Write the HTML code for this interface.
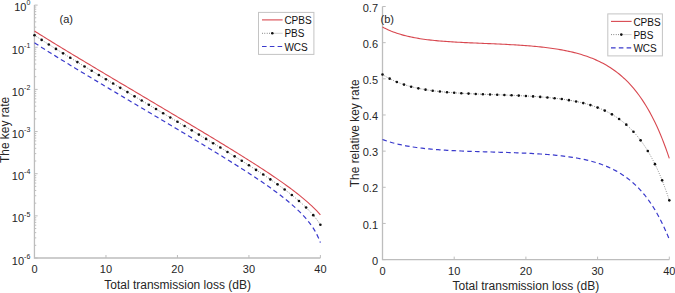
<!DOCTYPE html>
<html><head><meta charset="utf-8"><style>
html,body{margin:0;padding:0;background:#fff;}
svg{display:block;font-family:"Liberation Sans",sans-serif;}
</style></head><body>
<svg width="675" height="293" viewBox="0 0 675 293">
<rect width="675" height="293" fill="#fff"/>
<path d="M34.45,5.1 V258.0 H320.4" fill="none" stroke="#bdbdbd" stroke-width="1.3"/>
<path d="M105.97,258.0 v-3" stroke="#bdbdbd" stroke-width="1"/>
<path d="M177.45,258.0 v-3" stroke="#bdbdbd" stroke-width="1"/>
<path d="M248.93,258.0 v-3" stroke="#bdbdbd" stroke-width="1"/>
<path d="M320.40,258.0 v-3" stroke="#bdbdbd" stroke-width="1"/>
<path d="M34.45,5.10 h3.2" stroke="#bdbdbd" stroke-width="1"/>
<path d="M34.45,34.56 h1.8" stroke="#bdbdbd" stroke-width="1"/>
<path d="M34.45,27.14 h1.8" stroke="#bdbdbd" stroke-width="1"/>
<path d="M34.45,21.87 h1.8" stroke="#bdbdbd" stroke-width="1"/>
<path d="M34.45,17.79 h1.8" stroke="#bdbdbd" stroke-width="1"/>
<path d="M34.45,14.45 h1.8" stroke="#bdbdbd" stroke-width="1"/>
<path d="M34.45,11.63 h1.8" stroke="#bdbdbd" stroke-width="1"/>
<path d="M34.45,9.18 h1.8" stroke="#bdbdbd" stroke-width="1"/>
<path d="M34.45,7.03 h1.8" stroke="#bdbdbd" stroke-width="1"/>
<path d="M34.45,47.25 h3.2" stroke="#bdbdbd" stroke-width="1"/>
<path d="M34.45,76.71 h1.8" stroke="#bdbdbd" stroke-width="1"/>
<path d="M34.45,69.29 h1.8" stroke="#bdbdbd" stroke-width="1"/>
<path d="M34.45,64.02 h1.8" stroke="#bdbdbd" stroke-width="1"/>
<path d="M34.45,59.94 h1.8" stroke="#bdbdbd" stroke-width="1"/>
<path d="M34.45,56.60 h1.8" stroke="#bdbdbd" stroke-width="1"/>
<path d="M34.45,53.78 h1.8" stroke="#bdbdbd" stroke-width="1"/>
<path d="M34.45,51.33 h1.8" stroke="#bdbdbd" stroke-width="1"/>
<path d="M34.45,49.18 h1.8" stroke="#bdbdbd" stroke-width="1"/>
<path d="M34.45,89.40 h3.2" stroke="#bdbdbd" stroke-width="1"/>
<path d="M34.45,118.86 h1.8" stroke="#bdbdbd" stroke-width="1"/>
<path d="M34.45,111.44 h1.8" stroke="#bdbdbd" stroke-width="1"/>
<path d="M34.45,106.17 h1.8" stroke="#bdbdbd" stroke-width="1"/>
<path d="M34.45,102.09 h1.8" stroke="#bdbdbd" stroke-width="1"/>
<path d="M34.45,98.75 h1.8" stroke="#bdbdbd" stroke-width="1"/>
<path d="M34.45,95.93 h1.8" stroke="#bdbdbd" stroke-width="1"/>
<path d="M34.45,93.48 h1.8" stroke="#bdbdbd" stroke-width="1"/>
<path d="M34.45,91.33 h1.8" stroke="#bdbdbd" stroke-width="1"/>
<path d="M34.45,131.55 h3.2" stroke="#bdbdbd" stroke-width="1"/>
<path d="M34.45,161.01 h1.8" stroke="#bdbdbd" stroke-width="1"/>
<path d="M34.45,153.59 h1.8" stroke="#bdbdbd" stroke-width="1"/>
<path d="M34.45,148.32 h1.8" stroke="#bdbdbd" stroke-width="1"/>
<path d="M34.45,144.24 h1.8" stroke="#bdbdbd" stroke-width="1"/>
<path d="M34.45,140.90 h1.8" stroke="#bdbdbd" stroke-width="1"/>
<path d="M34.45,138.08 h1.8" stroke="#bdbdbd" stroke-width="1"/>
<path d="M34.45,135.63 h1.8" stroke="#bdbdbd" stroke-width="1"/>
<path d="M34.45,133.48 h1.8" stroke="#bdbdbd" stroke-width="1"/>
<path d="M34.45,173.70 h3.2" stroke="#bdbdbd" stroke-width="1"/>
<path d="M34.45,203.16 h1.8" stroke="#bdbdbd" stroke-width="1"/>
<path d="M34.45,195.74 h1.8" stroke="#bdbdbd" stroke-width="1"/>
<path d="M34.45,190.47 h1.8" stroke="#bdbdbd" stroke-width="1"/>
<path d="M34.45,186.39 h1.8" stroke="#bdbdbd" stroke-width="1"/>
<path d="M34.45,183.05 h1.8" stroke="#bdbdbd" stroke-width="1"/>
<path d="M34.45,180.23 h1.8" stroke="#bdbdbd" stroke-width="1"/>
<path d="M34.45,177.78 h1.8" stroke="#bdbdbd" stroke-width="1"/>
<path d="M34.45,175.63 h1.8" stroke="#bdbdbd" stroke-width="1"/>
<path d="M34.45,215.85 h3.2" stroke="#bdbdbd" stroke-width="1"/>
<path d="M34.45,245.31 h1.8" stroke="#bdbdbd" stroke-width="1"/>
<path d="M34.45,237.89 h1.8" stroke="#bdbdbd" stroke-width="1"/>
<path d="M34.45,232.62 h1.8" stroke="#bdbdbd" stroke-width="1"/>
<path d="M34.45,228.54 h1.8" stroke="#bdbdbd" stroke-width="1"/>
<path d="M34.45,225.20 h1.8" stroke="#bdbdbd" stroke-width="1"/>
<path d="M34.45,222.38 h1.8" stroke="#bdbdbd" stroke-width="1"/>
<path d="M34.45,219.93 h1.8" stroke="#bdbdbd" stroke-width="1"/>
<path d="M34.45,217.78 h1.8" stroke="#bdbdbd" stroke-width="1"/>
<path d="M34.45,258.00 h3.2" stroke="#bdbdbd" stroke-width="1"/>
<path d="M382.5,6.5 V259.6 H669.3" fill="none" stroke="#bdbdbd" stroke-width="1.3"/>
<path d="M454.20,259.6 v-3" stroke="#bdbdbd" stroke-width="1"/>
<path d="M525.90,259.6 v-3" stroke="#bdbdbd" stroke-width="1"/>
<path d="M597.60,259.6 v-3" stroke="#bdbdbd" stroke-width="1"/>
<path d="M669.30,259.6 v-3" stroke="#bdbdbd" stroke-width="1"/>
<path d="M382.5,259.60 h3.2" stroke="#bdbdbd" stroke-width="1"/>
<path d="M382.5,223.44 h3.2" stroke="#bdbdbd" stroke-width="1"/>
<path d="M382.5,187.29 h3.2" stroke="#bdbdbd" stroke-width="1"/>
<path d="M382.5,151.13 h3.2" stroke="#bdbdbd" stroke-width="1"/>
<path d="M382.5,114.97 h3.2" stroke="#bdbdbd" stroke-width="1"/>
<path d="M382.5,78.81 h3.2" stroke="#bdbdbd" stroke-width="1"/>
<path d="M382.5,42.66 h3.2" stroke="#bdbdbd" stroke-width="1"/>
<path d="M382.5,6.50 h3.2" stroke="#bdbdbd" stroke-width="1"/>
<path d="M34.50,31.04 L36.29,32.17 L38.07,33.30 L39.86,34.42 L41.65,35.53 L43.43,36.65 L45.22,37.76 L47.01,38.86 L48.80,39.97 L50.58,41.07 L52.37,42.17 L54.16,43.26 L55.94,44.36 L57.73,45.45 L59.52,46.54 L61.30,47.62 L63.09,48.71 L64.88,49.79 L66.66,50.88 L68.45,51.96 L70.24,53.04 L72.02,54.11 L73.81,55.19 L75.60,56.27 L77.38,57.34 L79.17,58.41 L80.96,59.48 L82.75,60.56 L84.53,61.63 L86.32,62.69 L88.11,63.76 L89.89,64.83 L91.68,65.90 L93.47,66.96 L95.25,68.03 L97.04,69.10 L98.83,70.16 L100.61,71.22 L102.40,72.29 L104.19,73.35 L105.97,74.41 L107.76,75.48 L109.55,76.54 L111.34,77.60 L113.12,78.66 L114.91,79.72 L116.70,80.78 L118.48,81.85 L120.27,82.91 L122.06,83.97 L123.84,85.03 L125.63,86.09 L127.42,87.15 L129.20,88.21 L130.99,89.27 L132.78,90.33 L134.56,91.39 L136.35,92.45 L138.14,93.51 L139.93,94.57 L141.71,95.63 L143.50,96.69 L145.29,97.75 L147.07,98.81 L148.86,99.87 L150.65,100.93 L152.43,101.99 L154.22,103.05 L156.01,104.11 L157.79,105.17 L159.58,106.24 L161.37,107.30 L163.16,108.36 L164.94,109.42 L166.73,110.49 L168.52,111.55 L170.30,112.61 L172.09,113.68 L173.88,114.74 L175.66,115.80 L177.45,116.87 L179.24,117.93 L181.02,119.00 L182.81,120.07 L184.60,121.13 L186.38,122.20 L188.17,123.27 L189.96,124.34 L191.74,125.41 L193.53,126.48 L195.32,127.55 L197.11,128.62 L198.89,129.70 L200.68,130.77 L202.47,131.84 L204.25,132.92 L206.04,134.00 L207.83,135.07 L209.61,136.15 L211.40,137.23 L213.19,138.31 L214.97,139.40 L216.76,140.48 L218.55,141.57 L220.33,142.66 L222.12,143.74 L223.91,144.84 L225.70,145.93 L227.48,147.02 L229.27,148.12 L231.06,149.22 L232.84,150.32 L234.63,151.42 L236.42,152.53 L238.20,153.64 L239.99,154.75 L241.78,155.86 L243.56,156.98 L245.35,158.10 L247.14,159.23 L248.93,160.36 L250.71,161.49 L252.50,162.62 L254.29,163.76 L256.07,164.91 L257.86,166.06 L259.65,167.21 L261.43,168.37 L263.22,169.54 L265.01,170.71 L266.79,171.89 L268.58,173.08 L270.37,174.27 L272.15,175.47 L273.94,176.68 L275.73,177.90 L277.51,179.13 L279.30,180.37 L281.09,181.62 L282.88,182.88 L284.66,184.15 L286.45,185.44 L288.24,186.74 L290.02,188.06 L291.81,189.39 L293.60,190.74 L295.38,192.11 L297.17,193.50 L298.96,194.92 L300.74,196.36 L302.53,197.83 L304.32,199.33 L306.10,200.86 L307.89,202.43 L309.68,204.04 L311.47,205.69 L313.25,207.40 L315.04,209.16 L316.83,210.99 L318.61,212.89 L320.40,214.87" fill="none" stroke="#d84850" stroke-width="1.1"/>
<path d="M34.50,35.25 L36.29,36.42 L38.07,37.58 L39.86,38.73 L41.65,39.88 L43.43,41.03 L45.22,42.17 L47.01,43.31 L48.80,44.44 L50.58,45.56 L52.37,46.69 L54.16,47.81 L55.94,48.92 L57.73,50.04 L59.52,51.15 L61.30,52.26 L63.09,53.36 L64.88,54.46 L66.66,55.56 L68.45,56.66 L70.24,57.75 L72.02,58.84 L73.81,59.93 L75.60,61.02 L77.38,62.11 L79.17,63.19 L80.96,64.27 L82.75,65.36 L84.53,66.44 L86.32,67.51 L88.11,68.59 L89.89,69.67 L91.68,70.74 L93.47,71.82 L95.25,72.89 L97.04,73.96 L98.83,75.03 L100.61,76.10 L102.40,77.17 L104.19,78.24 L105.97,79.31 L107.76,80.37 L109.55,81.44 L111.34,82.51 L113.12,83.57 L114.91,84.64 L116.70,85.70 L118.48,86.77 L120.27,87.83 L122.06,88.89 L123.84,89.95 L125.63,91.02 L127.42,92.08 L129.20,93.14 L130.99,94.20 L132.78,95.27 L134.56,96.33 L136.35,97.39 L138.14,98.45 L139.93,99.51 L141.71,100.57 L143.50,101.63 L145.29,102.69 L147.07,103.75 L148.86,104.82 L150.65,105.88 L152.43,106.94 L154.22,108.00 L156.01,109.06 L157.79,110.12 L159.58,111.18 L161.37,112.24 L163.16,113.31 L164.94,114.37 L166.73,115.43 L168.52,116.49 L170.30,117.56 L172.09,118.62 L173.88,119.68 L175.66,120.75 L177.45,121.81 L179.24,122.87 L181.02,123.94 L182.81,125.00 L184.60,126.07 L186.38,127.14 L188.17,128.20 L189.96,129.27 L191.74,130.34 L193.53,131.41 L195.32,132.48 L197.11,133.55 L198.89,134.62 L200.68,135.70 L202.47,136.77 L204.25,137.84 L206.04,138.92 L207.83,140.00 L209.61,141.07 L211.40,142.15 L213.19,143.24 L214.97,144.32 L216.76,145.40 L218.55,146.49 L220.33,147.57 L222.12,148.66 L223.91,149.75 L225.70,150.85 L227.48,151.94 L229.27,153.04 L231.06,154.14 L232.84,155.24 L234.63,156.35 L236.42,157.45 L238.20,158.56 L239.99,159.68 L241.78,160.80 L243.56,161.92 L245.35,163.04 L247.14,164.17 L248.93,165.31 L250.71,166.44 L252.50,167.59 L254.29,168.74 L256.07,169.89 L257.86,171.05 L259.65,172.22 L261.43,173.39 L263.22,174.57 L265.01,175.76 L266.79,176.96 L268.58,178.16 L270.37,179.38 L272.15,180.60 L273.94,181.84 L275.73,183.09 L277.51,184.35 L279.30,185.63 L281.09,186.91 L282.88,188.22 L284.66,189.54 L286.45,190.88 L288.24,192.25 L290.02,193.63 L291.81,195.04 L293.60,196.48 L295.38,197.94 L297.17,199.44 L298.96,200.97 L300.74,202.54 L302.53,204.16 L304.32,205.83 L306.10,207.55 L307.89,209.33 L309.68,211.19 L311.47,213.13 L313.25,215.17 L315.04,217.32 L316.83,219.61 L318.61,222.06 L320.40,224.70" fill="none" stroke="#555" stroke-width="0.8" stroke-dasharray="0.8 1.6"/>
<path d="M34.50,42.80 L36.29,43.95 L38.07,45.10 L39.86,46.25 L41.65,47.39 L43.43,48.52 L45.22,49.65 L47.01,50.78 L48.80,51.91 L50.58,53.03 L52.37,54.14 L54.16,55.26 L55.94,56.37 L57.73,57.48 L59.52,58.59 L61.30,59.69 L63.09,60.79 L64.88,61.89 L66.66,62.99 L68.45,64.08 L70.24,65.17 L72.02,66.26 L73.81,67.35 L75.60,68.44 L77.38,69.53 L79.17,70.61 L80.96,71.69 L82.75,72.77 L84.53,73.85 L86.32,74.93 L88.11,76.01 L89.89,77.09 L91.68,78.16 L93.47,79.24 L95.25,80.31 L97.04,81.38 L98.83,82.45 L100.61,83.52 L102.40,84.60 L104.19,85.66 L105.97,86.73 L107.76,87.80 L109.55,88.87 L111.34,89.94 L113.12,91.00 L114.91,92.07 L116.70,93.13 L118.48,94.20 L120.27,95.26 L122.06,96.33 L123.84,97.39 L125.63,98.46 L127.42,99.52 L129.20,100.58 L130.99,101.65 L132.78,102.71 L134.56,103.77 L136.35,104.84 L138.14,105.90 L139.93,106.96 L141.71,108.03 L143.50,109.09 L145.29,110.15 L147.07,111.21 L148.86,112.28 L150.65,113.34 L152.43,114.40 L154.22,115.47 L156.01,116.53 L157.79,117.59 L159.58,118.66 L161.37,119.72 L163.16,120.79 L164.94,121.85 L166.73,122.91 L168.52,123.98 L170.30,125.05 L172.09,126.11 L173.88,127.18 L175.66,128.25 L177.45,129.31 L179.24,130.38 L181.02,131.45 L182.81,132.52 L184.60,133.59 L186.38,134.66 L188.17,135.73 L189.96,136.81 L191.74,137.88 L193.53,138.95 L195.32,140.03 L197.11,141.11 L198.89,142.18 L200.68,143.26 L202.47,144.34 L204.25,145.42 L206.04,146.51 L207.83,147.59 L209.61,148.68 L211.40,149.77 L213.19,150.85 L214.97,151.95 L216.76,153.04 L218.55,154.14 L220.33,155.23 L222.12,156.33 L223.91,157.44 L225.70,158.54 L227.48,159.65 L229.27,160.76 L231.06,161.88 L232.84,162.99 L234.63,164.12 L236.42,165.24 L238.20,166.37 L239.99,167.50 L241.78,168.64 L243.56,169.79 L245.35,170.94 L247.14,172.09 L248.93,173.25 L250.71,174.42 L252.50,175.59 L254.29,176.77 L256.07,177.96 L257.86,179.15 L259.65,180.36 L261.43,181.57 L263.22,182.79 L265.01,184.03 L266.79,185.27 L268.58,186.53 L270.37,187.80 L272.15,189.09 L273.94,190.39 L275.73,191.71 L277.51,193.04 L279.30,194.40 L281.09,195.77 L282.88,197.17 L284.66,198.59 L286.45,200.04 L288.24,201.51 L290.02,203.02 L291.81,204.56 L293.60,206.13 L295.38,207.75 L297.17,209.41 L298.96,211.13 L300.74,212.90 L302.53,214.74 L304.32,216.67 L306.10,218.69 L307.89,220.82 L309.68,223.09 L311.47,225.53 L313.25,228.18 L315.04,231.10 L316.83,234.38 L318.61,238.16 L320.40,242.65" fill="none" stroke="#3a3acc" stroke-width="1.2" stroke-dasharray="4.6 3.2"/>
<circle cx="34.50" cy="35.25" r="1.3" fill="#111"/>
<circle cx="41.65" cy="39.88" r="1.3" fill="#111"/>
<circle cx="48.80" cy="44.44" r="1.3" fill="#111"/>
<circle cx="55.94" cy="48.92" r="1.3" fill="#111"/>
<circle cx="63.09" cy="53.36" r="1.3" fill="#111"/>
<circle cx="70.24" cy="57.75" r="1.3" fill="#111"/>
<circle cx="77.38" cy="62.11" r="1.3" fill="#111"/>
<circle cx="84.53" cy="66.44" r="1.3" fill="#111"/>
<circle cx="91.68" cy="70.74" r="1.3" fill="#111"/>
<circle cx="98.83" cy="75.03" r="1.3" fill="#111"/>
<circle cx="105.97" cy="79.31" r="1.3" fill="#111"/>
<circle cx="113.12" cy="83.57" r="1.3" fill="#111"/>
<circle cx="120.27" cy="87.83" r="1.3" fill="#111"/>
<circle cx="127.42" cy="92.08" r="1.3" fill="#111"/>
<circle cx="134.56" cy="96.33" r="1.3" fill="#111"/>
<circle cx="141.71" cy="100.57" r="1.3" fill="#111"/>
<circle cx="148.86" cy="104.82" r="1.3" fill="#111"/>
<circle cx="156.01" cy="109.06" r="1.3" fill="#111"/>
<circle cx="163.16" cy="113.31" r="1.3" fill="#111"/>
<circle cx="170.30" cy="117.56" r="1.3" fill="#111"/>
<circle cx="177.45" cy="121.81" r="1.3" fill="#111"/>
<circle cx="184.60" cy="126.07" r="1.3" fill="#111"/>
<circle cx="191.74" cy="130.34" r="1.3" fill="#111"/>
<circle cx="198.89" cy="134.62" r="1.3" fill="#111"/>
<circle cx="206.04" cy="138.92" r="1.3" fill="#111"/>
<circle cx="213.19" cy="143.24" r="1.3" fill="#111"/>
<circle cx="220.33" cy="147.57" r="1.3" fill="#111"/>
<circle cx="227.48" cy="151.94" r="1.3" fill="#111"/>
<circle cx="234.63" cy="156.35" r="1.3" fill="#111"/>
<circle cx="241.78" cy="160.80" r="1.3" fill="#111"/>
<circle cx="248.93" cy="165.31" r="1.3" fill="#111"/>
<circle cx="256.07" cy="169.89" r="1.3" fill="#111"/>
<circle cx="263.22" cy="174.57" r="1.3" fill="#111"/>
<circle cx="270.37" cy="179.38" r="1.3" fill="#111"/>
<circle cx="277.51" cy="184.35" r="1.3" fill="#111"/>
<circle cx="284.66" cy="189.54" r="1.3" fill="#111"/>
<circle cx="291.81" cy="195.04" r="1.3" fill="#111"/>
<circle cx="298.96" cy="200.97" r="1.3" fill="#111"/>
<circle cx="306.10" cy="207.55" r="1.3" fill="#111"/>
<circle cx="313.25" cy="215.17" r="1.3" fill="#111"/>
<circle cx="320.40" cy="224.70" r="1.3" fill="#111"/>
<path d="M382.50,27.01 L384.29,27.96 L386.08,28.85 L387.88,29.68 L389.67,30.47 L391.46,31.22 L393.25,31.92 L395.05,32.58 L396.84,33.20 L398.63,33.79 L400.43,34.34 L402.22,34.86 L404.01,35.35 L405.80,35.81 L407.59,36.25 L409.39,36.66 L411.18,37.05 L412.97,37.41 L414.76,37.76 L416.56,38.08 L418.35,38.39 L420.14,38.68 L421.94,38.95 L423.73,39.21 L425.52,39.45 L427.31,39.68 L429.11,39.90 L430.90,40.11 L432.69,40.31 L434.48,40.49 L436.27,40.67 L438.07,40.83 L439.86,40.99 L441.65,41.14 L443.44,41.28 L445.24,41.42 L447.03,41.55 L448.82,41.67 L450.62,41.79 L452.41,41.91 L454.20,42.01 L455.99,42.12 L457.78,42.22 L459.58,42.32 L461.37,42.41 L463.16,42.50 L464.95,42.59 L466.75,42.67 L468.54,42.75 L470.33,42.83 L472.12,42.91 L473.92,42.99 L475.71,43.07 L477.50,43.14 L479.29,43.22 L481.09,43.29 L482.88,43.37 L484.67,43.44 L486.46,43.52 L488.26,43.59 L490.05,43.67 L491.84,43.74 L493.63,43.82 L495.43,43.90 L497.22,43.98 L499.01,44.06 L500.80,44.14 L502.60,44.23 L504.39,44.31 L506.18,44.40 L507.97,44.49 L509.77,44.59 L511.56,44.69 L513.35,44.79 L515.14,44.89 L516.94,45.00 L518.73,45.12 L520.52,45.23 L522.32,45.35 L524.11,45.48 L525.90,45.61 L527.69,45.75 L529.48,45.89 L531.28,46.04 L533.07,46.20 L534.86,46.36 L536.65,46.53 L538.45,46.71 L540.24,46.89 L542.03,47.09 L543.83,47.29 L545.62,47.50 L547.41,47.72 L549.20,47.95 L551.00,48.20 L552.79,48.45 L554.58,48.71 L556.37,48.99 L558.16,49.28 L559.96,49.59 L561.75,49.91 L563.54,50.24 L565.34,50.59 L567.13,50.96 L568.92,51.34 L570.71,51.74 L572.50,52.16 L574.30,52.60 L576.09,53.07 L577.88,53.55 L579.67,54.06 L581.47,54.59 L583.26,55.15 L585.05,55.73 L586.85,56.34 L588.64,56.98 L590.43,57.65 L592.22,58.36 L594.01,59.10 L595.81,59.87 L597.60,60.68 L599.39,61.53 L601.18,62.42 L602.98,63.35 L604.77,64.33 L606.56,65.35 L608.36,66.42 L610.15,67.55 L611.94,68.72 L613.73,69.96 L615.52,71.25 L617.32,72.61 L619.11,74.03 L620.90,75.52 L622.69,77.08 L624.49,78.72 L626.28,80.43 L628.07,82.23 L629.87,84.11 L631.66,86.09 L633.45,88.16 L635.24,90.33 L637.03,92.60 L638.83,94.98 L640.62,97.48 L642.41,100.09 L644.20,102.83 L646.00,105.71 L647.79,108.72 L649.58,111.87 L651.38,115.18 L653.17,118.65 L654.96,122.28 L656.75,126.09 L658.54,130.08 L660.34,134.26 L662.13,138.65 L663.92,143.24 L665.71,148.06 L667.51,153.10 L669.30,158.39" fill="none" stroke="#d84850" stroke-width="1.1"/>
<path d="M382.50,74.50 L384.29,75.63 L386.08,76.70 L387.88,77.71 L389.67,78.67 L391.46,79.57 L393.25,80.42 L395.05,81.22 L396.84,81.97 L398.63,82.69 L400.43,83.36 L402.22,84.00 L404.01,84.60 L405.80,85.17 L407.59,85.70 L409.39,86.21 L411.18,86.68 L412.97,87.13 L414.76,87.56 L416.56,87.96 L418.35,88.34 L420.14,88.70 L421.94,89.04 L423.73,89.36 L425.52,89.66 L427.31,89.95 L429.11,90.22 L430.90,90.47 L432.69,90.71 L434.48,90.94 L436.27,91.16 L438.07,91.36 L439.86,91.56 L441.65,91.74 L443.44,91.91 L445.24,92.08 L447.03,92.24 L448.82,92.38 L450.62,92.53 L452.41,92.66 L454.20,92.79 L455.99,92.91 L457.78,93.03 L459.58,93.14 L461.37,93.24 L463.16,93.34 L464.95,93.44 L466.75,93.53 L468.54,93.62 L470.33,93.71 L472.12,93.79 L473.92,93.87 L475.71,93.95 L477.50,94.02 L479.29,94.10 L481.09,94.17 L482.88,94.24 L484.67,94.31 L486.46,94.37 L488.26,94.44 L490.05,94.50 L491.84,94.57 L493.63,94.63 L495.43,94.70 L497.22,94.76 L499.01,94.83 L500.80,94.89 L502.60,94.96 L504.39,95.03 L506.18,95.09 L507.97,95.16 L509.77,95.23 L511.56,95.31 L513.35,95.38 L515.14,95.46 L516.94,95.54 L518.73,95.62 L520.52,95.70 L522.32,95.79 L524.11,95.88 L525.90,95.97 L527.69,96.07 L529.48,96.17 L531.28,96.27 L533.07,96.38 L534.86,96.50 L536.65,96.62 L538.45,96.75 L540.24,96.88 L542.03,97.02 L543.83,97.16 L545.62,97.31 L547.41,97.47 L549.20,97.64 L551.00,97.81 L552.79,98.00 L554.58,98.19 L556.37,98.40 L558.16,98.61 L559.96,98.84 L561.75,99.07 L563.54,99.32 L565.34,99.58 L567.13,99.86 L568.92,100.15 L570.71,100.46 L572.50,100.78 L574.30,101.12 L576.09,101.48 L577.88,101.85 L579.67,102.25 L581.47,102.66 L583.26,103.10 L585.05,103.57 L586.85,104.05 L588.64,104.57 L590.43,105.11 L592.22,105.68 L594.01,106.28 L595.81,106.91 L597.60,107.58 L599.39,108.28 L601.18,109.02 L602.98,109.80 L604.77,110.62 L606.56,111.48 L608.36,112.39 L610.15,113.35 L611.94,114.36 L613.73,115.43 L615.52,116.55 L617.32,117.73 L619.11,118.98 L620.90,120.29 L622.69,121.68 L624.49,123.14 L626.28,124.67 L628.07,126.29 L629.87,128.00 L631.66,129.80 L633.45,131.69 L635.24,133.69 L637.03,135.79 L638.83,138.01 L640.62,140.34 L642.41,142.80 L644.20,145.40 L646.00,148.13 L647.79,151.01 L649.58,154.04 L651.38,157.24 L653.17,160.61 L654.96,164.15 L656.75,167.89 L658.54,171.84 L660.34,175.99 L662.13,180.36 L663.92,184.98 L665.71,189.83 L667.51,194.95 L669.30,200.35" fill="none" stroke="#555" stroke-width="0.8" stroke-dasharray="0.8 1.6"/>
<path d="M382.50,139.53 L384.29,140.18 L386.08,140.80 L387.88,141.38 L389.67,141.94 L391.46,142.46 L393.25,142.96 L395.05,143.43 L396.84,143.88 L398.63,144.30 L400.43,144.71 L402.22,145.09 L404.01,145.45 L405.80,145.79 L407.59,146.12 L409.39,146.43 L411.18,146.72 L412.97,147.00 L414.76,147.27 L416.56,147.52 L418.35,147.75 L420.14,147.98 L421.94,148.19 L423.73,148.40 L425.52,148.59 L427.31,148.78 L429.11,148.95 L430.90,149.12 L432.69,149.27 L434.48,149.42 L436.27,149.57 L438.07,149.70 L439.86,149.83 L441.65,149.95 L443.44,150.07 L445.24,150.18 L447.03,150.29 L448.82,150.39 L450.62,150.49 L452.41,150.58 L454.20,150.67 L455.99,150.76 L457.78,150.84 L459.58,150.92 L461.37,151.00 L463.16,151.07 L464.95,151.14 L466.75,151.21 L468.54,151.28 L470.33,151.34 L472.12,151.40 L473.92,151.46 L475.71,151.52 L477.50,151.58 L479.29,151.64 L481.09,151.69 L482.88,151.75 L484.67,151.80 L486.46,151.85 L488.26,151.91 L490.05,151.96 L491.84,152.01 L493.63,152.07 L495.43,152.12 L497.22,152.17 L499.01,152.23 L500.80,152.28 L502.60,152.34 L504.39,152.39 L506.18,152.45 L507.97,152.51 L509.77,152.57 L511.56,152.63 L513.35,152.70 L515.14,152.76 L516.94,152.83 L518.73,152.90 L520.52,152.97 L522.32,153.05 L524.11,153.12 L525.90,153.20 L527.69,153.29 L529.48,153.38 L531.28,153.47 L533.07,153.56 L534.86,153.66 L536.65,153.77 L538.45,153.88 L540.24,153.99 L542.03,154.11 L543.83,154.23 L545.62,154.37 L547.41,154.50 L549.20,154.65 L551.00,154.80 L552.79,154.96 L554.58,155.12 L556.37,155.30 L558.16,155.48 L559.96,155.68 L561.75,155.88 L563.54,156.09 L565.34,156.32 L567.13,156.55 L568.92,156.80 L570.71,157.06 L572.50,157.34 L574.30,157.63 L576.09,157.93 L577.88,158.25 L579.67,158.59 L581.47,158.94 L583.26,159.31 L585.05,159.71 L586.85,160.12 L588.64,160.55 L590.43,161.01 L592.22,161.49 L594.01,162.00 L595.81,162.53 L597.60,163.09 L599.39,163.68 L601.18,164.30 L602.98,164.96 L604.77,165.65 L606.56,166.37 L608.36,167.14 L610.15,167.94 L611.94,168.79 L613.73,169.68 L615.52,170.61 L617.32,171.60 L619.11,172.64 L620.90,173.73 L622.69,174.89 L624.49,176.10 L626.28,177.38 L628.07,178.72 L629.87,180.13 L631.66,181.62 L633.45,183.19 L635.24,184.84 L637.03,186.58 L638.83,188.41 L640.62,190.34 L642.41,192.37 L644.20,194.50 L646.00,196.75 L647.79,199.12 L649.58,201.61 L651.38,204.23 L653.17,207.00 L654.96,209.90 L656.75,212.97 L658.54,216.19 L660.34,219.58 L662.13,223.16 L663.92,226.92 L665.71,230.88 L667.51,235.05 L669.30,239.44" fill="none" stroke="#3a3acc" stroke-width="1.2" stroke-dasharray="4.6 3.2"/>
<circle cx="382.50" cy="74.50" r="1.3" fill="#111"/>
<circle cx="389.67" cy="78.67" r="1.3" fill="#111"/>
<circle cx="396.84" cy="81.97" r="1.3" fill="#111"/>
<circle cx="404.01" cy="84.60" r="1.3" fill="#111"/>
<circle cx="411.18" cy="86.68" r="1.3" fill="#111"/>
<circle cx="418.35" cy="88.34" r="1.3" fill="#111"/>
<circle cx="425.52" cy="89.66" r="1.3" fill="#111"/>
<circle cx="432.69" cy="90.71" r="1.3" fill="#111"/>
<circle cx="439.86" cy="91.56" r="1.3" fill="#111"/>
<circle cx="447.03" cy="92.24" r="1.3" fill="#111"/>
<circle cx="454.20" cy="92.79" r="1.3" fill="#111"/>
<circle cx="461.37" cy="93.24" r="1.3" fill="#111"/>
<circle cx="468.54" cy="93.62" r="1.3" fill="#111"/>
<circle cx="475.71" cy="93.95" r="1.3" fill="#111"/>
<circle cx="482.88" cy="94.24" r="1.3" fill="#111"/>
<circle cx="490.05" cy="94.50" r="1.3" fill="#111"/>
<circle cx="497.22" cy="94.76" r="1.3" fill="#111"/>
<circle cx="504.39" cy="95.03" r="1.3" fill="#111"/>
<circle cx="511.56" cy="95.31" r="1.3" fill="#111"/>
<circle cx="518.73" cy="95.62" r="1.3" fill="#111"/>
<circle cx="525.90" cy="95.97" r="1.3" fill="#111"/>
<circle cx="533.07" cy="96.38" r="1.3" fill="#111"/>
<circle cx="540.24" cy="96.88" r="1.3" fill="#111"/>
<circle cx="547.41" cy="97.47" r="1.3" fill="#111"/>
<circle cx="554.58" cy="98.19" r="1.3" fill="#111"/>
<circle cx="561.75" cy="99.07" r="1.3" fill="#111"/>
<circle cx="568.92" cy="100.15" r="1.3" fill="#111"/>
<circle cx="576.09" cy="101.48" r="1.3" fill="#111"/>
<circle cx="583.26" cy="103.10" r="1.3" fill="#111"/>
<circle cx="590.43" cy="105.11" r="1.3" fill="#111"/>
<circle cx="597.60" cy="107.58" r="1.3" fill="#111"/>
<circle cx="604.77" cy="110.62" r="1.3" fill="#111"/>
<circle cx="611.94" cy="114.36" r="1.3" fill="#111"/>
<circle cx="619.11" cy="118.98" r="1.3" fill="#111"/>
<circle cx="626.28" cy="124.67" r="1.3" fill="#111"/>
<circle cx="633.45" cy="131.69" r="1.3" fill="#111"/>
<circle cx="640.62" cy="140.34" r="1.3" fill="#111"/>
<circle cx="647.79" cy="151.01" r="1.3" fill="#111"/>
<circle cx="654.96" cy="164.15" r="1.3" fill="#111"/>
<circle cx="662.13" cy="180.36" r="1.3" fill="#111"/>
<circle cx="669.30" cy="200.35" r="1.3" fill="#111"/>
<text y="11.20" x="30.35" font-size="11" text-anchor="end" fill="#262626">10<tspan font-size="7" dy="-5.8">0</tspan></text>
<text y="53.75" x="30.35" font-size="11" text-anchor="end" fill="#262626">10<tspan font-size="7" dy="-5.8">-1</tspan></text>
<text y="95.90" x="30.35" font-size="11" text-anchor="end" fill="#262626">10<tspan font-size="7" dy="-5.8">-2</tspan></text>
<text y="138.05" x="30.35" font-size="11" text-anchor="end" fill="#262626">10<tspan font-size="7" dy="-5.8">-3</tspan></text>
<text y="180.20" x="30.35" font-size="11" text-anchor="end" fill="#262626">10<tspan font-size="7" dy="-5.8">-4</tspan></text>
<text y="222.35" x="30.35" font-size="11" text-anchor="end" fill="#262626">10<tspan font-size="7" dy="-5.8">-5</tspan></text>
<text y="264.50" x="30.35" font-size="11" text-anchor="end" fill="#262626">10<tspan font-size="7" dy="-5.8">-6</tspan></text>
<text x="34.50" y="273.3" font-size="11" text-anchor="middle" fill="#262626" >0</text>
<text x="105.97" y="273.3" font-size="11" text-anchor="middle" fill="#262626" >10</text>
<text x="177.45" y="273.3" font-size="11" text-anchor="middle" fill="#262626" >20</text>
<text x="248.93" y="273.3" font-size="11" text-anchor="middle" fill="#262626" >30</text>
<text x="320.40" y="273.3" font-size="11" text-anchor="middle" fill="#262626" >40</text>
<text x="378.0" y="264.80" font-size="11" text-anchor="end" fill="#262626" >0</text>
<text x="378.0" y="228.64" font-size="11" text-anchor="end" fill="#262626" >0.1</text>
<text x="378.0" y="192.49" font-size="11" text-anchor="end" fill="#262626" >0.2</text>
<text x="378.0" y="156.33" font-size="11" text-anchor="end" fill="#262626" >0.3</text>
<text x="378.0" y="120.17" font-size="11" text-anchor="end" fill="#262626" >0.4</text>
<text x="378.0" y="84.01" font-size="11" text-anchor="end" fill="#262626" >0.5</text>
<text x="378.0" y="47.86" font-size="11" text-anchor="end" fill="#262626" >0.6</text>
<text x="378.0" y="11.70" font-size="11" text-anchor="end" fill="#262626" >0.7</text>
<text x="382.50" y="275.2" font-size="11" text-anchor="middle" fill="#262626" >0</text>
<text x="454.20" y="275.2" font-size="11" text-anchor="middle" fill="#262626" >10</text>
<text x="525.90" y="275.2" font-size="11" text-anchor="middle" fill="#262626" >20</text>
<text x="597.60" y="275.2" font-size="11" text-anchor="middle" fill="#262626" >30</text>
<text x="669.30" y="275.2" font-size="11" text-anchor="middle" fill="#262626" >40</text>
<text x="177.6" y="289.2" font-size="12" text-anchor="middle" fill="#262626" >Total transmission loss (dB)</text>
<text x="525.9" y="290.4" font-size="12" text-anchor="middle" fill="#262626" >Total transmission loss (dB)</text>
<text x="0" y="0" font-size="11.9" text-anchor="middle" fill="#262626" transform="translate(8.8,129.9) rotate(-90)">The key rate</text>
<text x="0" y="0" font-size="11.9" text-anchor="middle" fill="#262626" transform="translate(358.5,133.3) rotate(-90)">The relative key rate</text>
<text x="59.5" y="22.9" font-size="11" text-anchor="start" fill="#262626" >(a)</text>
<text x="380.5" y="23.3" font-size="11" text-anchor="start" fill="#262626" >(b)</text>
<rect x="258.5" y="12.4" width="55.4" height="42.0" fill="#fff" stroke="#c4c4c4" stroke-width="1"/>
<path d="M262,19.9 H282.6" stroke="#d84850" stroke-width="1.1"/>
<path d="M262,33.3 H272.30" stroke="#444" stroke-width="0.8" stroke-dasharray="0.8 1.6"/>
<path d="M272.30,33.3 H282.6" stroke="#c8c8c8" stroke-width="0.8"/>
<circle cx="272.30" cy="33.3" r="1.3" fill="#111"/>
<path d="M262,46.5 H282.6" stroke="#3a3acc" stroke-width="1.2" stroke-dasharray="4.6 3.2"/>
<text x="284.4" y="24.00" font-size="10" fill="#111">CPBS</text>
<text x="284.4" y="37.40" font-size="10" fill="#111">PBS</text>
<text x="284.4" y="50.60" font-size="10" fill="#111">WCS</text>
<rect x="607.8" y="13.9" width="54.6" height="42.0" fill="#fff" stroke="#c4c4c4" stroke-width="1"/>
<path d="M611,21.4 H631.6" stroke="#d84850" stroke-width="1.1"/>
<path d="M611,34.6 H621.30" stroke="#444" stroke-width="0.8" stroke-dasharray="0.8 1.6"/>
<path d="M621.30,34.6 H631.6" stroke="#c8c8c8" stroke-width="0.8"/>
<circle cx="621.30" cy="34.6" r="1.3" fill="#111"/>
<path d="M611,47.9 H631.6" stroke="#3a3acc" stroke-width="1.2" stroke-dasharray="4.6 3.2"/>
<text x="633.4" y="25.70" font-size="10" fill="#111">CPBS</text>
<text x="633.4" y="38.90" font-size="10" fill="#111">PBS</text>
<text x="633.4" y="52.20" font-size="10" fill="#111">WCS</text>
</svg>
</body></html>
